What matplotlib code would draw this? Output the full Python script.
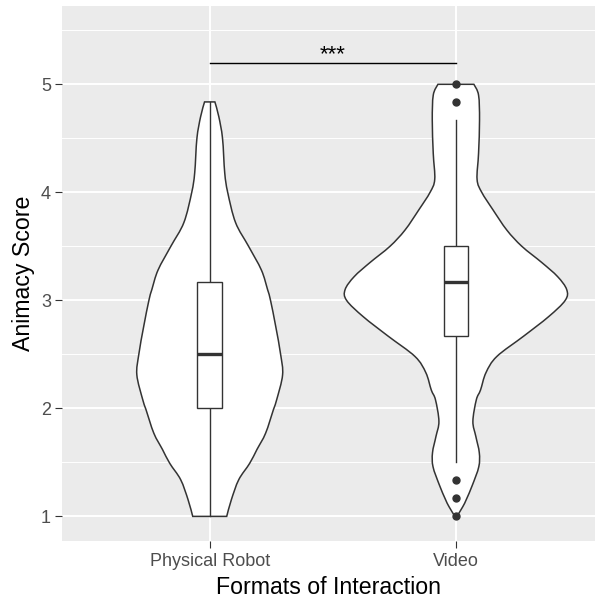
import matplotlib
matplotlib.use("Agg")
import matplotlib.pyplot as plt
from matplotlib.path import Path
from matplotlib.patches import PathPatch
import numpy as np

plt.rcParams['font.family'] = ['Liberation Sans', 'DejaVu Sans']

# ---------------- data ----------------
categories = ["Physical Robot", "Video"]

# violin outlines (score level, half-width in category units)
phys_levels = [1.0, 1.155, 1.34, 1.49, 1.62, 1.77, 1.99, 2.08, 2.31, 2.5, 2.76, 3.0,
               3.1, 3.28, 3.5, 3.72, 4.0, 4.18, 4.5, 4.70, 4.837]
phys_half = [0.069, 0.088, 0.118, 0.162, 0.192, 0.227, 0.259, 0.272, 0.296, 0.288, 0.268,
             0.247, 0.235, 0.210, 0.158, 0.105, 0.073, 0.061, 0.052, 0.037, 0.021]

video_levels = [1.0, 1.09, 1.16, 1.29, 1.46, 1.59, 1.74, 1.88, 2.08, 2.17, 2.33, 2.48,
                2.67, 2.85, 3.0, 3.1, 3.22, 3.35, 3.5, 3.65, 3.84, 4.0, 4.12, 4.36,
                4.67, 4.9, 5.0]
video_half = [0.004, 0.028, 0.043, 0.067, 0.093, 0.095, 0.081, 0.069, 0.083, 0.100, 0.122,
              0.166, 0.276, 0.377, 0.444, 0.450, 0.413, 0.349, 0.268, 0.207, 0.150, 0.105,
              0.086, 0.092, 0.096, 0.092, 0.073]

# box statistics: lower whisker, Q1, median, Q3, upper whisker
phys_box = [1.0, 2.0, 2.5, 3.167, 4.833]
video_box = [1.5, 2.667, 3.167, 3.5, 4.667]
phys_outliers = []
video_outliers = [5.0, 4.833, 1.333, 1.167, 1.0]

signif_y = 5.2
signif_label = "***"

yticks = [1, 2, 3, 4, 5]
xlabel = "Formats of Interaction"
ylabel = "Animacy Score"


def smooth_side(pts):
    """Catmull-Rom through the given points, expressed as cubic Bezier path pieces."""
    pts = np.asarray(pts, float)
    verts, codes = [], []
    n = len(pts)
    for k in range(n - 1):
        p0 = pts[max(k - 1, 0)]
        p1 = pts[k]
        p2 = pts[k + 1]
        p3 = pts[min(k + 2, n - 1)]
        c1 = p1 + (p2 - p0) / 6.0
        c2 = p2 - (p3 - p1) / 6.0
        verts += [tuple(c1), tuple(c2), tuple(p2)]
        codes += [Path.CURVE4] * 3
    return verts, codes


# ---------------- figure ----------------
W, H = 595, 600
fig = plt.figure(figsize=(W / 100, H / 100), dpi=100)
left, right, top, bottom = 62, 595, 6, 540.7
ax = fig.add_axes([left / W, 1 - bottom / H, (right - left) / W, (bottom - top) / H])
ax.set_facecolor("#EBEBEB")
ax.set_xlim(0.4, 2.565)
ax.set_ylim(0.775, 5.725)

# grid
for v in np.arange(1.5, 5.6, 1.0):
    ax.axhline(v, color="white", lw=0.7, zorder=0)
for v in yticks:
    ax.axhline(v, color="white", lw=1.4, zorder=0)
for i in range(len(categories)):
    ax.axvline(i + 1, color="white", lw=1.4, zorder=0)

dark = "#333333"
violins = [(phys_levels, phys_half), (video_levels, video_half)]
boxes = [phys_box, video_box]
outs = [phys_outliers, video_outliers]
for i, ((lv, hw), bx, ol) in enumerate(zip(violins, boxes, outs)):
    c = i + 1
    lv = np.array(lv)
    hw = np.array(hw)
    left_pts = np.column_stack([c - hw, lv])
    right_pts = np.column_stack([c + hw, lv])[::-1]
    verts = [tuple(left_pts[0])]
    codes = [Path.MOVETO]
    v1, c1 = smooth_side(left_pts)
    verts += v1
    codes += c1
    verts.append(tuple(right_pts[0]))
    codes.append(Path.LINETO)
    v2, c2 = smooth_side(right_pts)
    verts += v2
    codes += c2
    verts.append(tuple(left_pts[0]))
    codes.append(Path.CLOSEPOLY)
    ax.add_patch(PathPatch(Path(verts, codes), facecolor="white", edgecolor=dark,
                           lw=1.1, zorder=2))
    bw = 0.05
    lo, q1, med, q3, hi = bx
    ax.plot([c, c], [lo, q1], color=dark, lw=1.0, zorder=3)
    ax.plot([c, c], [q3, hi], color=dark, lw=1.0, zorder=3)
    ax.add_patch(plt.Rectangle((c - bw, q1), 2 * bw, q3 - q1, facecolor="white",
                               edgecolor=dark, lw=1.0, zorder=3))
    ax.plot([c - bw, c + bw], [med, med], color=dark, lw=2.4, zorder=4,
            solid_capstyle="butt")
    if ol:
        ax.plot([c] * len(ol), ol, "o", color=dark, ms=5, zorder=5)

# significance bracket
ax.plot([1, 2], [signif_y, signif_y], color="black", lw=1.0, zorder=5)
ax.text(1.5, signif_y + 0.02, signif_label, ha="center", va="baseline",
        fontsize=16, color="black", zorder=6)

ax.set_xticks([1, 2])
ax.set_xticklabels(categories)
ax.set_yticks(yticks)
ax.set_yticklabels([str(t) for t in yticks])
ax.tick_params(axis="both", colors="#333333", length=5, width=0.8, labelsize=13,
               labelcolor="#4D4D4D")
ax.tick_params(axis="x", pad=4.2)
ax.tick_params(axis="y", pad=3)
for s in ax.spines.values():
    s.set_visible(False)

ax.set_xlabel(xlabel, fontsize=16.7, color="black", va="baseline")
ax.xaxis.set_label_coords(0.5, -(594 - bottom) / (bottom - top))
ax.set_ylabel(ylabel, fontsize=16.7, color="black", va="center")
ax.yaxis.set_label_coords((24 - left) / (right - left), 0.5)

fig.savefig("out.png", dpi=100, facecolor="white")
